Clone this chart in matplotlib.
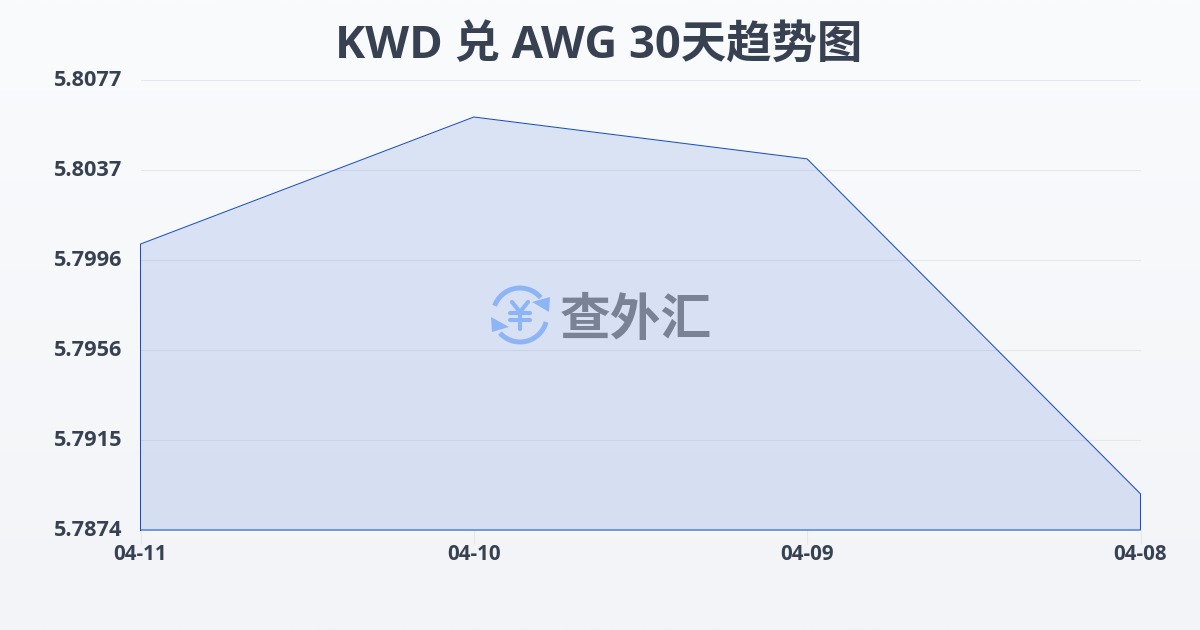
import numpy as np
import matplotlib
matplotlib.use("Agg")
import matplotlib.pyplot as plt
from matplotlib.patches import Arc, Polygon

plt.rcParams['font.family'] = ['Open Sans', 'Noto Sans CJK SC', 'DejaVu Sans']

# Datos
fechas = ["04-11", "04-10", "04-09", "04-08"]
valores = [5.80030, 5.80603, 5.80414, 5.78903]
ticks_y = [5.7874, 5.7915, 5.7956, 5.7996, 5.8037, 5.8077]

TEXTO = "#374151"
LINEA = "#1d4fc4"

fig = plt.figure(figsize=(12, 6.3), dpi=100)

# Fondo con degradado
fondo = fig.add_axes([0, 0, 1, 1], zorder=0)
grad = np.linspace(0, 1, 256).reshape(-1, 1)
arriba = np.array([0xf9, 0xfb, 0xfd]) / 255
abajo = np.array([0xf2, 0xf4, 0xf7]) / 255
img = arriba + (abajo - arriba) * grad[..., None]
fondo.imshow(img, aspect='auto', extent=[0, 1, 0, 1])
fondo.axis('off')

# Grafico principal: 140-1140 px, 80-530 px
ax = fig.add_axes([140.5 / 1200, 100 / 630, 1000 / 1200, 450 / 630], zorder=1)
ax.patch.set_alpha(0)
x = np.arange(len(fechas))
ax.fill_between(x, valores, ticks_y[0], color="#2b5fd0", alpha=0.14, linewidth=0)
ax.plot(np.r_[x[0], x, x[-1], x[0]], np.r_[ticks_y[0], valores, ticks_y[0], ticks_y[0]],
        color=LINEA, lw=0.75, solid_joinstyle='miter', clip_on=False)
ax.set_xlim(x[0], x[-1])
ax.set_ylim(ticks_y[0], ticks_y[-1])

# Los ticks reales estan repartidos igual, las etiquetas van redondeadas
ax.set_yticks(np.linspace(ticks_y[0], ticks_y[-1], len(ticks_y)))
ax.set_yticklabels(["%.4f" % v for v in ticks_y], fontsize=15.7, fontweight='bold', color=TEXTO)
ax.set_xticks(x)
ax.set_xticklabels(fechas, fontsize=14.8, fontweight='bold', color=TEXTO)
ax.grid(axis='y', color="#e5e7eb", lw=0.8)
ax.set_axisbelow(True)
for s in ax.spines.values():
    s.set_visible(False)
ax.tick_params(axis='y', length=0, pad=13)
ax.tick_params(axis='x', length=10, width=0.8, color="#e5e7eb", pad=0)
for etiqueta in ax.get_yticklabels():
    etiqueta.set_verticalalignment('center')

fig.text(0.499, 1 - 47.5 / 630, "KWD 兑 AWG 30天趋势图", fontsize=32.7, fontweight='bold',
         color=TEXTO, ha='center', va='center')

# Marca de agua, en pixeles de la figura
marca = fig.add_axes([0, 0, 1, 1], zorder=2)
marca.set_xlim(0, 1200)
marca.set_ylim(630, 0)
marca.axis('off')
AZUL = "#8db4f5"
marca.add_patch(Arc((520, 315), 54, 54, theta1=200, theta2=320, color=AZUL, lw=3.6))
marca.add_patch(Arc((520, 315), 54, 54, theta1=15, theta2=138, color=AZUL, lw=3.6))
marca.add_patch(Polygon([[532, 302], [550, 297], [549, 312]], color=AZUL, lw=0))
marca.add_patch(Polygon([[491, 317], [509, 327], [492, 332]], color=AZUL, lw=0))
# Simbolo del yen hecho con trazos
for xs, ys in [((512, 520, 528), (302, 312, 302)), ((510, 530), (313, 313)),
               ((510, 530), (320, 320)), ((520, 520), (312, 329))]:
    marca.plot(xs, ys, color=AZUL, lw=3, solid_capstyle='round', solid_joinstyle='round')
marca.text(636, 320, "查外汇", fontsize=36.5, fontweight='bold', color="#7a8296", ha='center', va='center',
           family=['Noto Sans CJK SC'])

fig.savefig("out.png", dpi=100)
